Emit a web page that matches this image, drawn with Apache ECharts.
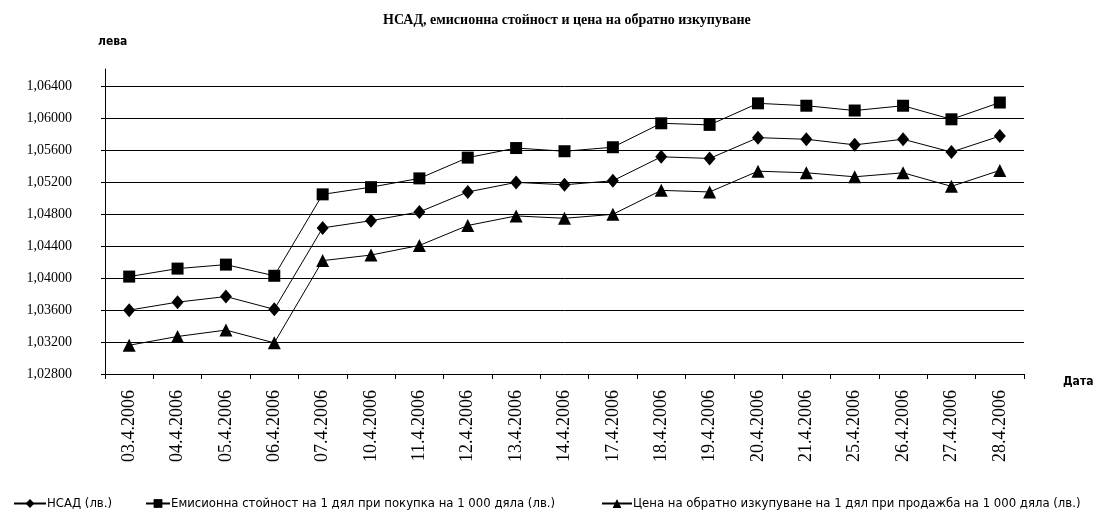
<!DOCTYPE html>
<html>
<head>
<meta charset="utf-8">
<script src="https://cdn.jsdelivr.net/npm/echarts@6/dist/echarts.min.js"></script>
<style>
  html, body { margin: 0; padding: 0; background: #fff; }
  #chart { width: 1108px; height: 525px; }
</style>
</head>
<body>
<div id="chart"></div>
<script>
// Dates on the x axis
const categories = [
  "03.4.2006", "04.4.2006", "05.4.2006", "06.4.2006", "07.4.2006",
  "10.4.2006", "11.4.2006", "12.4.2006", "13.4.2006", "14.4.2006",
  "17.4.2006", "18.4.2006", "19.4.2006", "20.4.2006", "21.4.2006",
  "25.4.2006", "26.4.2006", "27.4.2006", "28.4.2006",
]

// НСАД
const nsad = [
  1.0360, 1.0370, 1.0377, 1.0361, 1.0463, 1.0472, 1.0483, 1.0508, 1.0520, 1.0517,
  1.0522, 1.0552, 1.0550, 1.0576, 1.0574, 1.0567, 1.0574, 1.0558, 1.0578,
]

// Емисионна стойност
const issuePrice = [
  1.0402, 1.0412, 1.0417, 1.0403, 1.0505, 1.0514, 1.0525, 1.0551, 1.0563, 1.0559,
  1.0564, 1.0594, 1.0592, 1.0619, 1.0616, 1.0610, 1.0616, 1.0599, 1.0620,
]

// Цена на обратно изкупуване
const redeemPrice = [
  1.0316, 1.0327, 1.0335, 1.0319, 1.0422, 1.0429, 1.0441, 1.0466, 1.0478, 1.0475,
  1.0480, 1.0510, 1.0508, 1.0534, 1.0532, 1.0527, 1.0532, 1.0515, 1.0535,
]

const seriesNames = [
  "НСАД (лв.)",
  "Емисионна стойност на 1 дял при покупка на 1 000 дяла (лв.)",
  "Цена на обратно изкупуване на 1 дял при продажба на 1 000 дяла (лв.)",
]

const serif = "'Liberation Serif', 'Times New Roman', serif"
const narrow = "'Liberation Sans Narrow', 'DejaVu Sans Condensed', 'Liberation Sans', sans-serif"

const chart = echarts.init(document.getElementById("chart"))

const legendStyle = {
  top: 492,
  itemWidth: 32,
  itemHeight: 11,
  itemGap: 0,
  textStyle: { fontFamily: narrow, fontSize: 13, color: "#000", padding: [0, 0, 0, -4] },
}

const lineSeries = (name, data, symbol, size) => ({
  name,
  type: "line",
  data,
  symbol,
  symbolSize: size,
  showSymbol: true,
  lineStyle: { color: "#000", width: 1 },
  itemStyle: { color: "#000" },
})

const option = {
  animation: false,
  backgroundColor: "#fff",
  title: [
    {
      text: "НСАД, емисионна стойност и цена на обратно изкупуване",
      left: 378,
      top: 8,
      textStyle: { fontFamily: serif, fontSize: 14, fontWeight: "bold", color: "#000" },
    },
    {
      text: "лева",
      left: 93,
      top: 31,
      textStyle: { fontFamily: narrow, fontSize: 12, fontWeight: "bold", color: "#000" },
    },
    {
      text: "Дата",
      left: 1058,
      top: 371,
      textStyle: { fontFamily: narrow, fontSize: 12, fontWeight: "bold", color: "#000" },
    },
  ],
  legend: [
    { ...legendStyle, left: 8, data: [seriesNames[0]] },
    { ...legendStyle, left: 140, itemWidth: 24, data: [seriesNames[1]] },
    { ...legendStyle, left: 596, itemWidth: 30, data: [seriesNames[2]] },
  ],
  grid: {
    left: 105,
    right: 84,
    top: 69,
    bottom: 151,
  },
  xAxis: {
    type: "category",
    data: categories,
    boundaryGap: true,
    axisLine: { lineStyle: { color: "#000", width: 1 } },
    axisTick: { show: true, length: 5, lineStyle: { color: "#000" } },
    axisLabel: {
      interval: 0,
      rotate: 90,
      margin: 16,
      fontFamily: serif,
      fontSize: 18,
      color: "#000",
    },
    splitLine: { show: false },
  },
  yAxis: {
    type: "value",
    min: 1.028,
    max: 1.0662,
    interval: 0.004,
    axisLine: { show: true, lineStyle: { color: "#000", width: 1 } },
    axisTick: { show: true, length: 4, lineStyle: { color: "#000" } },
    axisLabel: {
      showMaxLabel: false,
      margin: 33,
      fontFamily: serif,
      fontSize: 14,
      color: "#000",
      formatter: (v) => v.toFixed(5).replace(".", ","),
    },
    splitLine: {
      show: true,
      showMaxLine: false,
      showMinLine: false,
      lineStyle: { color: "#000", width: 1 },
    },
  },
  series: [
    lineSeries(seriesNames[0], nsad, "diamond", [12, 14]),
    lineSeries(seriesNames[1], issuePrice, "rect", 12),
    lineSeries(seriesNames[2], redeemPrice, "triangle", 13),
  ],
}

chart.setOption(option)
</script>
</body>
</html>
